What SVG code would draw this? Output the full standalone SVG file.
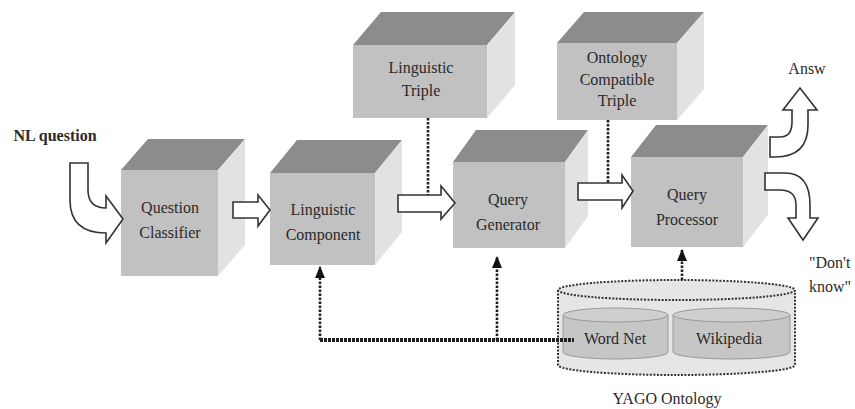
<svg xmlns="http://www.w3.org/2000/svg" width="855" height="409" viewBox="0 0 855 409" font-family="'Liberation Serif', 'Times New Roman', serif">
<defs>
<style>
.front{fill:#c1c1c1}
.top{fill:#8c8c8c}
.side{fill:#e2e2e2}
.lbl{font-family:'Liberation Serif', serif;font-size:16px;fill:#2a2a2a;text-anchor:middle}
.blk{fill:#fff;stroke:#333;stroke-width:1.6;stroke-linejoin:miter}
.dotv{fill:none;stroke:#222;stroke-width:2.6;stroke-dasharray:2.5,1.5}
.doth{fill:none;stroke:#222;stroke-width:4;stroke-dasharray:3,1}
.cylo{fill:#e6e6e6;stroke:#333;stroke-width:2;stroke-dasharray:2,1.5}
.cyli{fill:#c6c6c6;stroke:#999;stroke-width:1}
</style>
<marker id="ah" viewBox="0 0 12 10" refX="11" refY="5" markerWidth="12" markerHeight="10" markerUnits="userSpaceOnUse" orient="auto">
<path d="M0,0 L12,5 L0,10 Z" fill="#111"/>
</marker>
</defs>
<rect width="855" height="409" fill="#fff"/>

<g id="yago">
<path class="cylo" d="M558,290 L558,365 A118.5,10 0 0 0 795,365 L795,290"/>
<ellipse class="cylo" cx="676.5" cy="290" rx="118.5" ry="10"/>
</g>
<g id="wordnet">
<path class="cyli" d="M563,315 L563,352 A52.5,7 0 0 0 668,352 L668,315"/>
<ellipse cx="615.5" cy="315" rx="52.5" ry="7" fill="#cfcfcf" stroke="#999" stroke-width="1"/>
<text class="lbl" x="615" y="344" font-size="17">Word Net</text>
</g>
<g id="wikipedia">
<path class="cyli" d="M673,315 L673,352 A58.5,7 0 0 0 790,352 L790,315"/>
<ellipse cx="731.5" cy="315" rx="58.5" ry="7" fill="#cfcfcf" stroke="#999" stroke-width="1"/>
<text class="lbl" x="729" y="344">Wikipedia</text>
</g>
<text class="lbl" x="667" y="404">YAGO Ontology</text>

<g id="question-classifier">
<polygon class="top" points="121,170 148,139 245,139 218,170"/>
<polygon class="side" points="218,170 245,139 245,245 218,276"/>
<rect class="front" x="121" y="170" width="97" height="106"/>
<text class="lbl" x="170" y="213">Question</text>
<text class="lbl" x="170" y="238">Classifier</text>
</g>
<g id="linguistic-component">
<polygon class="top" points="270,173 297,140 402,140 375,173"/>
<polygon class="side" points="375,173 402,140 402,232 375,265"/>
<rect class="front" x="270" y="173" width="105" height="92"/>
<text class="lbl" x="323" y="215">Linguistic</text>
<text class="lbl" x="323" y="240">Component</text>
</g>
<g id="linguistic-triple">
<polygon class="top" points="353,45 381,12 515,12 487,45"/>
<polygon class="side" points="487,45 515,12 515,85 487,118"/>
<rect class="front" x="353" y="45" width="134" height="73"/>
<text class="lbl" x="421" y="73">Linguistic</text>
<text class="lbl" x="421" y="96">Triple</text>
</g>
<g id="query-generator">
<polygon class="top" points="453,162 476,130 588,130 565,162"/>
<polygon class="side" points="565,162 588,130 588,216 565,248"/>
<rect class="front" x="453" y="162" width="112" height="86"/>
<text class="lbl" x="508" y="205">Query</text>
<text class="lbl" x="508" y="230">Generator</text>
</g>
<g id="ontology-compatible-triple">
<polygon class="top" points="557,43 584,12 704,12 677,43"/>
<polygon class="side" points="677,43 704,12 704,89 677,120"/>
<rect class="front" x="557" y="43" width="120" height="77"/>
<text class="lbl" x="617" y="63">Ontology</text>
<text class="lbl" x="617" y="85">Compatible</text>
<text class="lbl" x="617" y="106">Triple</text>
</g>
<g id="query-processor">
<polygon class="top" points="631,157 656,125 768,125 743,157"/>
<polygon class="side" points="743,157 768,125 768,215 743,247"/>
<rect class="front" x="631" y="157" width="112" height="90"/>
<text class="lbl" x="687" y="200">Query</text>
<text class="lbl" x="687" y="225">Processor</text>
</g>

<text class="lbl" x="55" y="141" font-weight="bold" font-size="15">NL question</text>
<text class="lbl" x="807" y="74">Answ</text>
<text class="lbl" x="809" y="268" text-anchor="start" style="text-anchor:start">"Don't</text>
<text class="lbl" x="809" y="292" style="text-anchor:start">know"</text>

<g id="connectors">
<path class="blk" d="M70,163 L88,163 L88,190 Q88,208 106,208 L106,196 L123,219 L106,243 L106,233 Q70,233 70,200 Z"/>
<path class="blk" d="M233,202 L258,202 L258,195 L270,210 L258,226 L258,218 L233,218 Z"/>
<path class="blk" d="M398,195 L441,195 L441,186 L455,203 L441,219 L441,212 L398,212 Z"/>
<path class="blk" d="M578,183 L622,183 L622,175 L633,191 L622,208 L622,200 L578,200 Z"/>
<path class="blk" d="M770,137 L780,137 Q792,137 792,122 L792,110 L783,110 L800,88 L817,110 L808,110 L808,125 Q808,157 775,157 L770,157 Z"/>
<path class="blk" d="M765,173 L785,173 Q810,173 810,205 L810,218 L818,218 L803,240 L788,218 L796,218 L796,205 Q796,190 780,190 L765,190 Z"/>
<line class="dotv" x1="428" y1="118" x2="428" y2="195"/>
<line class="dotv" x1="608" y1="120" x2="608" y2="183"/>
<line class="doth" x1="320" y1="340" x2="574" y2="340"/>
<line class="dotv" x1="320" y1="340" x2="320" y2="267" marker-end="url(#ah)"/>
<line class="dotv" x1="497" y1="340" x2="497" y2="257" marker-end="url(#ah)"/>
<line class="dotv" x1="682" y1="280" x2="682" y2="250" marker-end="url(#ah)"/>
</g>
</svg>
